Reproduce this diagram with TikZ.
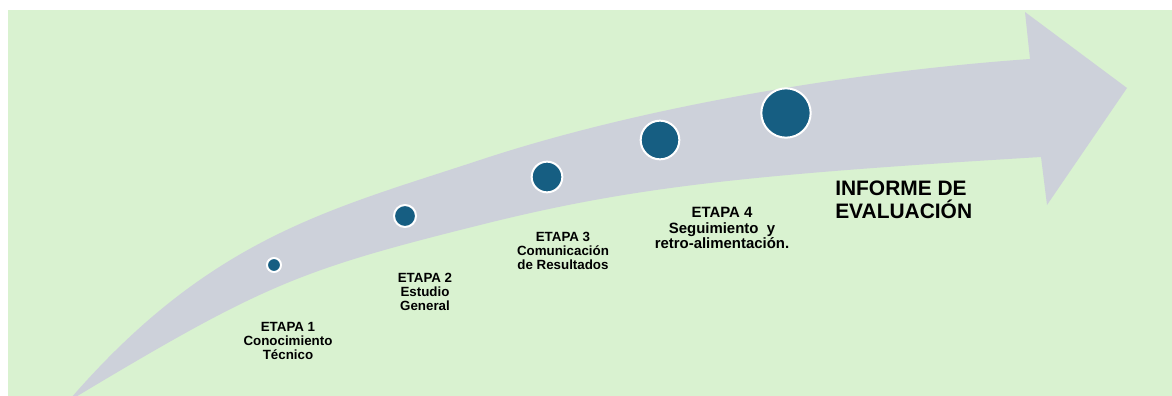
\documentclass[tikz,border=0pt]{standalone}
\usepackage{fontspec}
\setmainfont{Liberation Sans}
\definecolor{panelbg}{RGB}{217,242,208}
\definecolor{bandgrey}{RGB}{205,209,218}
\definecolor{dotblue}{RGB}{22,94,130}
\usetikzlibrary{positioning}
\tikzset{
    stagedot/.style={circle, draw=white, line width=1.5pt, fill=dotblue, inner sep=0pt},
    stagelabel/.style={align=center, inner sep=0pt, font=\bfseries\fontsize{10}{10.5}\selectfont},
    resultlabel/.style={align=left, inner sep=0pt, font=\bfseries\fontsize{15.7}{17.3}\selectfont}
}

\begin{document}
\begin{tikzpicture}[x=0.75pt, y=-0.75pt]
    \useasboundingbox (0,0) rectangle (1172,396);
    \fill[panelbg] (8,10) rectangle (1172,396);

    % curved band with its head
    \begin{scope}
        \clip (8,10) rectangle (1172,396);
        \fill[bandgrey] (71,398) .. controls (211,237) and (330,209.5) .. (480,160)
            .. controls (660,100.6) and (880,69.5) .. (1030,59)
            -- (1025,12) -- (1127,88) -- (1047,205) -- (1041,157)
            .. controls (741,175) and (630,187.5) .. (480,225)
            .. controls (300,270) and (264,284) .. (74,398) -- cycle;
    \end{scope}

    \node[stagedot, minimum size=10.5pt] (dot1) at (274,265) {};
    \node[stagedot, minimum size=16.5pt] (dot2) at (405,216) {};
    \node[stagedot, minimum size=23pt] (dot3) at (547,177) {};
    \node[stagedot, minimum size=29pt] (dot4) at (660,140) {};
    \node[stagedot, minimum size=37pt] (dot5) at (786,113) {};

    \node[stagelabel] (stage1) at (288,341) {ETAPA 1\\Conocimiento\\Técnico};
    \node[stagelabel] (stage2) at (425,292) {ETAPA 2\\Estudio\\General};
    \node[stagelabel] (stage3) at (563,251) {ETAPA 3\\Comunicación\\de Resultados};
    \node[stagelabel, font=\bfseries\fontsize{11.2}{11.7}\selectfont] (stage4) at (722,228) {ETAPA 4\\Seguimiento\ \ y\\retro-alimentación.};

    \node[resultlabel, anchor=west] (report) at (835,200) {INFORME DE\\EVALUACIÓN};
\end{tikzpicture}
\end{document}
